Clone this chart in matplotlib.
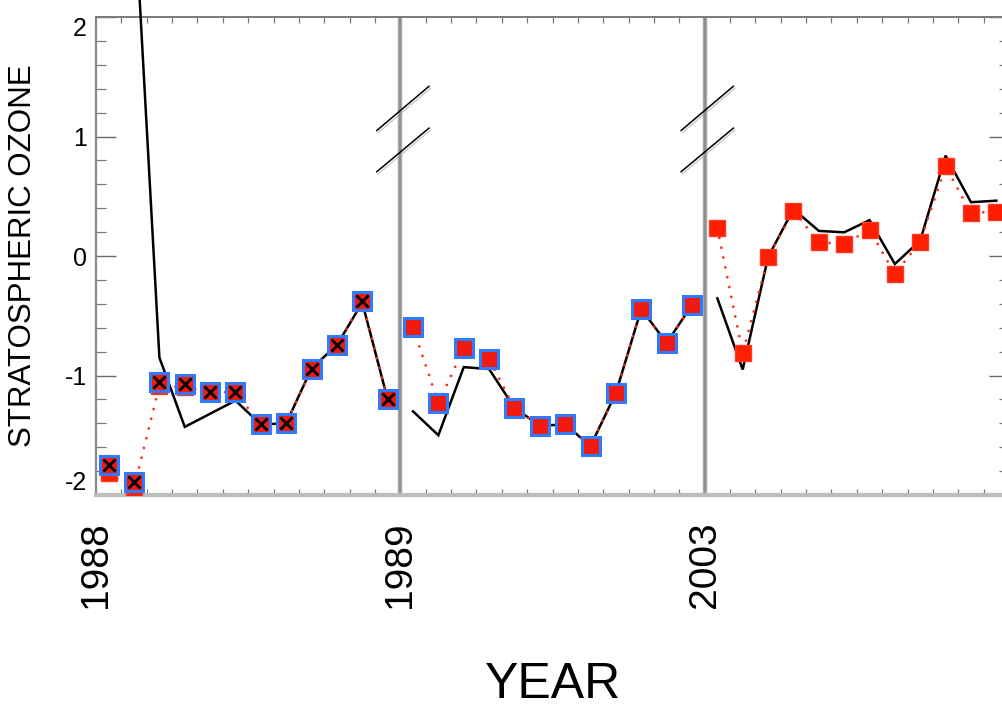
import numpy as np
import matplotlib
matplotlib.use("Agg")
import matplotlib.pyplot as plt
from matplotlib.ticker import MultipleLocator, FixedLocator
import matplotlib.patheffects as pe

plt.rcParams['font.family'] = ['Liberation Sans', 'DejaVu Sans']

# Three yearly segments of monthly values, shown side by side on a broken axis
years = ["1988", "1989", "2003"]
months_per_year = 12

# Black solid curve (one row per year segment)
black_line = [
    [np.nan, 3.00, -0.85, -1.43, -1.32, -1.21, -1.41, -1.40, -0.94, -0.745, -0.39, -1.20],
    [-1.30, -1.50, -0.93, -0.946, -1.27, -1.42, -1.41, -1.59, -1.146, -0.444, -0.728, -0.41],
    [-0.354, -0.95, -0.01, 0.393, 0.21, 0.198, 0.30, -0.067, 0.13, 0.84, 0.45, 0.463],
]

# Red dotted series with filled squares
red_series = [
    [-1.82, -1.94, -1.085, -1.10, -1.14, -1.14, -1.41, -1.40, -0.945, -0.745, -0.38, -1.20],
    [-0.597, -1.233, -0.772, -0.862, -1.272, -1.42, -1.41, -1.59, -1.146, -0.444, -0.728, -0.41],
    [0.234, -0.812, -0.011, 0.379, 0.115, 0.10, 0.22, -0.151, 0.12, 0.75, 0.36, 0.371],
]

# Blue-outlined squares (first two years only)
blue_series = [
    [-1.75, -1.89, -1.057, -1.07, -1.14, -1.14, -1.41, -1.40, -0.945, -0.745, -0.38, -1.20],
    [-0.597, -1.233, -0.772, -0.862, -1.272, -1.42, -1.41, -1.59, -1.146, -0.444, -0.728, -0.41],
    None,
]

# Black crosses (first year only)
cross_series = [
    [-1.75, -1.89, -1.057, -1.07, -1.14, -1.14, -1.41, -1.40, -0.945, -0.745, -0.38, -1.20],
    None,
    None,
]

y_ticks = [-2, -1, 0, 1, 2]

W, H, DPI = 1002, 711, 100
fig = plt.figure(figsize=(W / DPI, H / DPI), dpi=DPI)
left_px, right_px, top_px, bottom_px = 96, 1009, 17, 495
ax = fig.add_axes([left_px / W, 1 - bottom_px / H,
                   (right_px - left_px) / W, (bottom_px - top_px) / H])

n_total = months_per_year * len(years)
ax.set_xlim(0, n_total)
ax.set_ylim(-2, 2)

for s in range(len(years)):
    x = s * months_per_year + np.arange(months_per_year) + 0.5
    ax.plot(x, black_line[s], color='black', lw=1.8, zorder=3, clip_on=False,
            solid_joinstyle='miter')
    ax.plot(x, red_series[s], color='#ff2a10', lw=2.0, linestyle=(0, (0.01, 3.6)),
            dash_capstyle='round', zorder=4)
    ax.plot(x, red_series[s], linestyle='none', marker='s', markersize=12,
            markerfacecolor='#ff1e00', markeredgecolor='#ff3a20', markeredgewidth=1.0,
            zorder=5)
    if blue_series[s] is not None:
        ax.plot(x, blue_series[s], linestyle='none', marker='s', markersize=12.5,
                markerfacecolor='#f01a10', markeredgecolor='#2f7bff',
                markeredgewidth=2.2, zorder=6)
    if cross_series[s] is not None:
        ax.plot(x, cross_series[s], linestyle='none', marker='x', markersize=8,
                markeredgecolor='black', markeredgewidth=2.0, zorder=7)

# Break markers: gray verticals with double slashes
slash_dx = (-0.93, 1.13)
slash_pairs = [(1.05, 1.42), (0.705, 1.07)]
for s in range(1, len(years)):
    xb = s * months_per_year
    ax.axvline(xb, color='#a8a8a8', lw=3.2, zorder=2)
    ax.axvline(xb, color='#8c8c8c', lw=1.2, zorder=2)
    for y0, y1 in slash_pairs:
        ax.plot([xb + slash_dx[0], xb + slash_dx[1]], [y0, y1], color='black', lw=1.1,
                zorder=8, clip_on=False,
                path_effects=[pe.SimpleLineShadow(offset=(1, -1.5), shadow_color='#999999', alpha=0.5),
                              pe.Normal()])

# Axes frame
for side, col, lw in [('left', '#8a8a8a', 1.6), ('top', '#7a7a7a', 1.4),
                      ('bottom', '#bdbdbd', 3.0), ('right', '#8a8a8a', 1.4)]:
    ax.spines[side].set_color(col)
    ax.spines[side].set_linewidth(lw)

# Y ticks
ax.yaxis.set_major_locator(FixedLocator(y_ticks))
ax.yaxis.set_minor_locator(MultipleLocator(0.2))
ax.tick_params(axis='y', which='major', direction='in', length=14.4, width=1.0,
               color='#6a6a6a', labelsize=18, pad=6.5, left=True, right=True)
ax.tick_params(axis='y', which='minor', direction='in', length=7.2, width=0.9,
               color='#7a7a7a', left=True, right=True)
ax.set_yticklabels([str(v) for v in y_ticks])
for lab, v in zip(ax.get_yticklabels(), y_ticks):
    if v == 2:
        lab.set_verticalalignment('top')
    elif v == -2:
        lab.set_verticalalignment('bottom')

# X ticks: year labels at segment starts, minor ticks per month
ax.xaxis.set_major_locator(FixedLocator([s * months_per_year for s in range(len(years))]))
ax.xaxis.set_minor_locator(MultipleLocator(1))
ax.set_xticklabels(years, rotation=90, va='top', ha='center')
ax.tick_params(axis='x', which='major', length=0, labelsize=28, pad=19)
ax.tick_params(axis='x', which='minor', direction='in', length=4, width=0.9,
               color='#7a7a7a', top=True, bottom=True)

ax.set_ylabel("STRATOSPHERIC OZONE", fontsize=22.5)
ax.yaxis.label.set_verticalalignment('center')
ax.yaxis.set_label_coords((23 - left_px) / (right_px - left_px), 0.5)
ax.set_xlabel("YEAR", fontsize=36)
ax.xaxis.set_label_coords(0.5, (bottom_px - 685) / (bottom_px - top_px))
ax.xaxis.label.set_verticalalignment('center')

fig.savefig("out.png", dpi=DPI)
